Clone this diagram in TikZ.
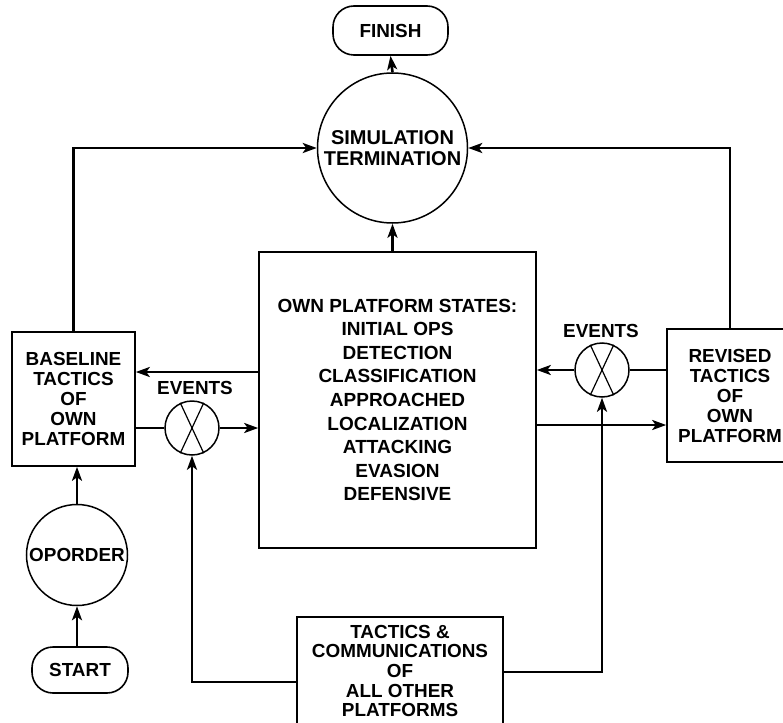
\documentclass[tikz,border=0pt]{standalone}
\usepackage{fontspec}
\setmainfont{Liberation Sans}
\usetikzlibrary{arrows.meta,calc}
\begin{document}
\begin{tikzpicture}[x=1pt,y=-1pt,
  every node/.style={font=\fontsize{18.9}{20}\selectfont\bfseries, inner sep=0pt, align=center},
  boxnode/.style={draw, line width=1.6pt, rectangle},
  roundnode/.style={draw, line width=1.6pt, rectangle, rounded corners=21pt},
  circnode/.style={draw, line width=1.5pt, circle},
  evnode/.style={draw, line width=1.5pt, circle, minimum size=54pt},
  conn/.style={line width=2.6pt},
  arr/.style={conn, -{Stealth[length=14pt,width=10pt,inset=3.5pt]}},
  lbl/.style={font=\fontsize{18.9}{20}\selectfont\bfseries}]
\useasboundingbox (0,0) rectangle (783,722);

\node[roundnode, minimum width=115pt, minimum height=49pt] (finish) at (390.5,30.5) {FINISH};
\node[circnode, minimum size=150pt, font=\fontsize{20}{20.5}\selectfont\bfseries] (simterm) at (392.5,148) {SIMULATION\\TERMINATION};
\node[boxnode, minimum width=277pt, minimum height=296pt, font=\fontsize{19}{23.6}\selectfont\bfseries] (states) at (397.5,400)
  {OWN PLATFORM STATES:\\INITIAL OPS\\DETECTION\\CLASSIFICATION\\APPROACHED\\LOCALIZATION\\ATTACKING\\EVASION\\DEFENSIVE};
\node[boxnode, minimum width=123pt, minimum height=134pt] (baseline) at (73.5,399)
  {BASELINE\\TACTICS\\OF\\OWN\\PLATFORM};
\node[boxnode, minimum width=126pt, minimum height=133pt] (revised) at (730,395.5)
  {REVISED\\TACTICS\\OF\\OWN\\PLATFORM};
\node[evnode] (evL) at (192,428) {};
\node[lbl] (evLlabel) at (195,388) {EVENTS};
\node[evnode] (evR) at (602,370) {};
\node[lbl] (evRlabel) at (601,331) {EVENTS};
\node[circnode, minimum size=101pt] (oporder) at (77,555) {OPORDER};
\node[roundnode, minimum width=96pt, minimum height=46pt] (start) at (80,670) {START};
\node[boxnode, minimum width=206pt, minimum height=108pt, font=\fontsize{18.9}{19.6}\selectfont\bfseries] (others) at (400,671)
  {TACTICS \&\\COMMUNICATIONS\\OF\\ALL OTHER\\PLATFORMS};

% crosses in event circles
\foreach \e in {evL,evR}{
  \draw[line width=1.2pt] (\e.115) -- (\e.-65);
  \draw[line width=1.2pt] (\e.65) -- (\e.-115);
}

% connectors
\draw[arr] (simterm.north) -- (finish.south);
\draw[arr] (states.north -| simterm.south) -- (simterm.south);
\draw[arr] (baseline.north) |- (simterm.west);
\draw[arr] (revised.north) |- (simterm.east);

\draw[arr] (states.west |- {(0,372)}) -- (baseline.east |- {(0,372)});
\draw[conn] (baseline.east |- evL.west) -- (evL.west);
\draw[arr] (evL.east) -- (states.west |- evL.east);

\draw[conn] (revised.west |- evR.east) -- (evR.east);
\draw[arr] (evR.west) -- (states.east |- evR.west);
\draw[arr] (states.east |- {(0,425)}) -- (revised.west |- {(0,425)});

\draw[arr] (others.west |- {(0,682)}) -| (evL.south);
\draw[arr] (others.east |- {(0,672)}) -| (evR.south);

\draw[arr] (start.north -| oporder.south) -- (oporder.south);
\draw[arr] (oporder.north) -- (baseline.south -| oporder.north);
\end{tikzpicture}
\end{document}
